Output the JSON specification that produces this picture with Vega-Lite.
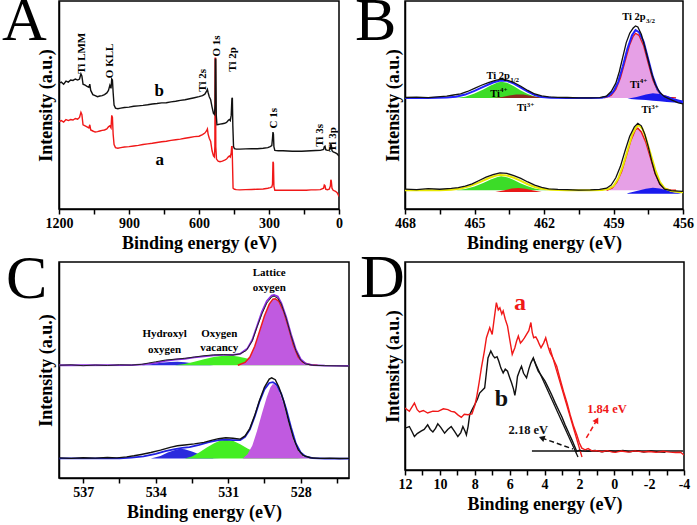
{
"$schema": "https://vega.github.io/schema/vega-lite/v6.json",
"padding": {"left": 1, "top": -11, "right": 0, "bottom": 0},
"config": {
 "view": {"stroke": "#000", "strokeWidth": 1.5},
 "style": {"guide-label": {"font": "Liberation Serif", "fontWeight": "bold"}, "guide-title": {"font": "Liberation Serif", "fontWeight": "bold"}},
 "axis": {"domainColor": "#000", "domainWidth": 1.5, "tickColor": "#000", "tickWidth": 1.5, "tickSize": 5, "labelFont": "Liberation Serif", "labelFontWeight": "bold", "labelFontSize": 14, "labelColor": "#000", "labelPadding": 2, "titleFont": "Liberation Serif", "titleFontWeight": "bold", "titleFontSize": 18, "titleColor": "#000", "grid": false, "labelOverlap": false, "labelFlush": false},
 "title": {"font": "Liberation Serif", "fontSize": 62, "fontWeight": "normal", "color": "#000", "anchor": "start", "frame": "bounds", "offset": 0, "baseline": "alphabetic"},
 "text": {"font": "Liberation Serif", "fontWeight": "bold"}
},
"datasets": {
 "A_b": [{"e":1200,"v":60.5},{"e":1190,"v":61},{"e":1180,"v":60},{"e":1170,"v":61.5},{"e":1160,"v":61},{"e":1150,"v":62},{"e":1140,"v":61.8},{"e":1130,"v":62.5},{"e":1120,"v":62},{"e":1112,"v":62.5},{"e":1106,"v":65},{"e":1102,"v":64},{"e":1097,"v":60},{"e":1088,"v":59.5},{"e":1080,"v":59},{"e":1072,"v":58.5},{"e":1068,"v":60},{"e":1064,"v":57},{"e":1055,"v":55},{"e":1045,"v":54.5},{"e":1035,"v":54},{"e":1025,"v":54.3},{"e":1015,"v":54.5},{"e":1005,"v":55},{"e":995,"v":55.8},{"e":988,"v":57},{"e":982,"v":59.5},{"e":977,"v":58},{"e":974,"v":62.5},{"e":971,"v":62},{"e":968,"v":56},{"e":964,"v":50},{"e":958,"v":48.5},{"e":948,"v":48.2},{"e":935,"v":48.5},{"e":920,"v":48.8},{"e":900,"v":49},{"e":880,"v":49.4},{"e":860,"v":49.6},{"e":840,"v":49.8},{"e":820,"v":50.1},{"e":800,"v":50.5},{"e":780,"v":50.7},{"e":760,"v":51},{"e":740,"v":51.1},{"e":720,"v":51.5},{"e":700,"v":51.8},{"e":680,"v":52.2},{"e":660,"v":52.5},{"e":640,"v":53},{"e":620,"v":53.5},{"e":600,"v":54},{"e":585,"v":54.5},{"e":575,"v":55.2},{"e":568,"v":56.5},{"e":564,"v":57.5},{"e":561,"v":56},{"e":556,"v":54},{"e":550,"v":52.5},{"e":544,"v":49},{"e":538,"v":46},{"e":534,"v":45.5},{"e":531,"v":50},{"e":530,"v":72},{"e":528,"v":72},{"e":526,"v":45},{"e":523,"v":40.5},{"e":518,"v":40.6},{"e":510,"v":40.8},{"e":500,"v":41},{"e":490,"v":41.2},{"e":482,"v":41.6},{"e":475,"v":42.5},{"e":470,"v":43},{"e":466,"v":42.5},{"e":462,"v":45},{"e":459,"v":53},{"e":457,"v":53.5},{"e":455,"v":40},{"e":452,"v":30},{"e":448,"v":29},{"e":440,"v":28.8},{"e":425,"v":28.8},{"e":400,"v":28.9},{"e":375,"v":29},{"e":350,"v":29},{"e":325,"v":29.2},{"e":305,"v":29.5},{"e":295,"v":30},{"e":288,"v":30.5},{"e":285,"v":34},{"e":283,"v":37},{"e":281,"v":36},{"e":279,"v":30},{"e":275,"v":28.2},{"e":260,"v":28},{"e":240,"v":28},{"e":220,"v":27.9},{"e":200,"v":27.8},{"e":180,"v":27.8},{"e":160,"v":27.8},{"e":140,"v":27.9},{"e":120,"v":28},{"e":100,"v":28.1},{"e":80,"v":28.2},{"e":66,"v":28.6},{"e":63,"v":30},{"e":60,"v":30.2},{"e":57,"v":28.5},{"e":50,"v":28.2},{"e":42,"v":28.3},{"e":37,"v":29},{"e":35,"v":31},{"e":33,"v":30.7},{"e":30,"v":28},{"e":25,"v":27.5},{"e":15,"v":27},{"e":8,"v":26.5},{"e":3,"v":25.8},{"e":0,"v":25.4}],
 "A_a": [{"e":1200,"v":42},{"e":1190,"v":42.5},{"e":1180,"v":41.8},{"e":1170,"v":43},{"e":1160,"v":42.5},{"e":1150,"v":43},{"e":1140,"v":42.8},{"e":1130,"v":43.5},{"e":1120,"v":43.2},{"e":1112,"v":44},{"e":1106,"v":46.5},{"e":1102,"v":45.5},{"e":1097,"v":40.5},{"e":1088,"v":40},{"e":1080,"v":39.5},{"e":1072,"v":39},{"e":1068,"v":40.5},{"e":1064,"v":38},{"e":1055,"v":37.5},{"e":1045,"v":37},{"e":1035,"v":37.2},{"e":1025,"v":37.5},{"e":1015,"v":37.8},{"e":1005,"v":38},{"e":995,"v":38.5},{"e":988,"v":39.5},{"e":982,"v":40},{"e":977,"v":39},{"e":974,"v":45},{"e":971,"v":44},{"e":968,"v":36},{"e":964,"v":31},{"e":958,"v":29.5},{"e":948,"v":29.2},{"e":935,"v":29.5},{"e":920,"v":29.8},{"e":900,"v":30},{"e":880,"v":30.3},{"e":860,"v":30.6},{"e":840,"v":31},{"e":820,"v":31.3},{"e":800,"v":31.6},{"e":780,"v":32},{"e":760,"v":32.3},{"e":740,"v":32.6},{"e":720,"v":33},{"e":700,"v":33.3},{"e":680,"v":33.6},{"e":660,"v":34},{"e":640,"v":34.4},{"e":620,"v":34.8},{"e":600,"v":35},{"e":585,"v":35.8},{"e":575,"v":36.5},{"e":568,"v":37.5},{"e":564,"v":38.5},{"e":561,"v":36},{"e":556,"v":34},{"e":550,"v":32.5},{"e":544,"v":28},{"e":538,"v":25.5},{"e":534,"v":25},{"e":532,"v":30},{"e":531,"v":72.5},{"e":529,"v":72.5},{"e":528,"v":30},{"e":525,"v":24},{"e":518,"v":23},{"e":510,"v":22.7},{"e":500,"v":23},{"e":490,"v":23.5},{"e":482,"v":24},{"e":475,"v":25},{"e":470,"v":25.5},{"e":466,"v":25},{"e":462,"v":27},{"e":460,"v":30},{"e":458,"v":30},{"e":456,"v":20},{"e":454,"v":10},{"e":448,"v":9.5},{"e":440,"v":9.3},{"e":425,"v":9.2},{"e":400,"v":9.3},{"e":375,"v":9.4},{"e":350,"v":9.5},{"e":325,"v":9.6},{"e":305,"v":10},{"e":295,"v":10.3},{"e":288,"v":10.6},{"e":285,"v":12},{"e":283,"v":22.7},{"e":281,"v":22},{"e":279,"v":11},{"e":275,"v":9},{"e":260,"v":9},{"e":240,"v":9},{"e":220,"v":9},{"e":200,"v":9},{"e":180,"v":9},{"e":160,"v":9},{"e":140,"v":9},{"e":120,"v":9.2},{"e":100,"v":9.2},{"e":80,"v":9.3},{"e":66,"v":10},{"e":63,"v":11.5},{"e":60,"v":11.2},{"e":57,"v":9.5},{"e":50,"v":9.3},{"e":42,"v":9.5},{"e":37,"v":11},{"e":35,"v":14},{"e":33,"v":13.5},{"e":30,"v":10},{"e":25,"v":9},{"e":15,"v":8.5},{"e":8,"v":7.8},{"e":3,"v":6.8},{"e":0,"v":6}],
 "A_lbl": [{"e":1101,"v":65,"t":"Ti LMM"},{"e":981,"v":62.9,"t":"O KLL"},{"e":582,"v":56.4,"t":"Ti 2s"},{"e":521,"v":73.3,"t":"O 1s"},{"e":453,"v":66,"t":"Ti 2p"},{"e":279,"v":38.7,"t":"C 1s"},{"e":82,"v":29.9,"t":"Ti 3s"},{"e":24,"v":27.5,"t":"Ti 3p"}],
 "A_ab": [{"e":770,"v":54.5,"t":"b"},{"e":768,"v":21,"t":"a"}],
 "B_top": [{"e":468,"v":53.6},{"e":467.5,"v":53.8},{"e":467,"v":53.5},{"e":466.6,"v":53.9},{"e":466.2,"v":54.3},{"e":465.9,"v":54.8},{"e":465.6,"v":55.3},{"e":465.3,"v":56.5},{"e":465,"v":58},{"e":464.7,"v":59.5},{"e":464.4,"v":60.8},{"e":464.1,"v":61.8},{"e":463.85,"v":62.4},{"e":463.6,"v":62},{"e":463.3,"v":60.8},{"e":463,"v":59},{"e":462.7,"v":57},{"e":462.4,"v":55.3},{"e":462.1,"v":54.4},{"e":461.8,"v":53.9},{"e":461.4,"v":53.7},{"e":461,"v":53.6},{"e":460.5,"v":53.4},{"e":460,"v":53.4},{"e":459.6,"v":53.5},{"e":459.3,"v":54.3},{"e":459.1,"v":56.5},{"e":458.9,"v":60.5},{"e":458.75,"v":66},{"e":458.6,"v":73},{"e":458.45,"v":80},{"e":458.3,"v":84.5},{"e":458.15,"v":87},{"e":458.05,"v":88},{"e":457.95,"v":87.5},{"e":457.8,"v":84},{"e":457.65,"v":78},{"e":457.5,"v":71.5},{"e":457.35,"v":65},{"e":457.2,"v":60},{"e":457,"v":56},{"e":456.8,"v":54},{"e":456.5,"v":52.5},{"e":456.2,"v":51},{"e":456,"v":50.5}],
 "B_topenv": [{"e":468,"v":53.4},{"e":467,"v":53.4},{"e":466.2,"v":53.6},{"e":465.8,"v":54},{"e":465.4,"v":55},{"e":465,"v":56.8},{"e":464.6,"v":58.8},{"e":464.2,"v":60.8},{"e":463.9,"v":61.8},{"e":463.6,"v":61.6},{"e":463.3,"v":60.3},{"e":463,"v":58.4},{"e":462.7,"v":56.4},{"e":462.4,"v":54.8},{"e":462.1,"v":53.9},{"e":461.7,"v":53.5},{"e":461,"v":53.4},{"e":460,"v":53.4},{"e":459.5,"v":53.5},{"e":459.2,"v":54.4},{"e":459,"v":56.5},{"e":458.8,"v":61},{"e":458.6,"v":68.5},{"e":458.4,"v":77},{"e":458.2,"v":83.5},{"e":458.05,"v":86},{"e":457.9,"v":85},{"e":457.7,"v":80.5},{"e":457.5,"v":72},{"e":457.3,"v":63.5},{"e":457.1,"v":57.5},{"e":456.9,"v":54.5},{"e":456.6,"v":53},{"e":456.3,"v":52},{"e":456,"v":51.5}],
 "B_top_pink": [{"e":459.4,"v":53.4,"b":53.4},{"e":459.1,"v":54.6,"b":53.4},{"e":458.9,"v":57.5,"b":53.4},{"e":458.7,"v":63,"b":53.4},{"e":458.5,"v":71,"b":53.4},{"e":458.3,"v":79,"b":53.4},{"e":458.15,"v":83,"b":53.4},{"e":458.05,"v":84.5,"b":53.4},{"e":457.9,"v":83.5,"b":53.4},{"e":457.7,"v":78.5,"b":53.4},{"e":457.5,"v":70,"b":53.4},{"e":457.3,"v":62,"b":53.4},{"e":457.1,"v":57,"b":53.4},{"e":456.9,"v":54.8,"b":53.4},{"e":456.6,"v":53.7,"b":53.4},{"e":456.3,"v":53.4,"b":53.4}],
 "B_top_blue": [{"e":458.4,"v":53,"b":53},{"e":458,"v":53.8,"b":52.7},{"e":457.6,"v":55,"b":52.4},{"e":457.3,"v":55.6,"b":52.1},{"e":457,"v":55.3,"b":51.8},{"e":456.7,"v":54.4,"b":51.5},{"e":456.4,"v":53.2,"b":51.2},{"e":456,"v":52,"b":50.8}],
 "B_top_green": [{"e":465.8,"v":53.4,"b":53.4},{"e":465.4,"v":54,"b":53.4},{"e":465,"v":55.5,"b":53.4},{"e":464.6,"v":57.6,"b":53.4},{"e":464.3,"v":59.4,"b":53.4},{"e":464,"v":60.8,"b":53.4},{"e":463.85,"v":61.2,"b":53.4},{"e":463.6,"v":60.7,"b":53.4},{"e":463.3,"v":59,"b":53.4},{"e":463,"v":57,"b":53.4},{"e":462.7,"v":55.3,"b":53.4},{"e":462.4,"v":54.1,"b":53.4},{"e":462.1,"v":53.6,"b":53.4},{"e":461.8,"v":53.4,"b":53.4}],
 "B_top_red": [{"e":464.2,"v":53.4,"b":53.4},{"e":463.8,"v":53.9,"b":53.4},{"e":463.5,"v":54.6,"b":53.4},{"e":463.2,"v":55.1,"b":53.4},{"e":462.9,"v":55,"b":53.4},{"e":462.6,"v":54.5,"b":53.4},{"e":462.3,"v":53.9,"b":53.4},{"e":462,"v":53.4,"b":53.4}],
 "B_bot": [{"e":468,"v":9.6},{"e":467.5,"v":9.3},{"e":467,"v":9.8},{"e":466.5,"v":9.5},{"e":466,"v":9.9},{"e":465.7,"v":10.3},{"e":465.4,"v":11},{"e":465.1,"v":12.1},{"e":464.8,"v":13.7},{"e":464.5,"v":15.3},{"e":464.2,"v":16.5},{"e":463.9,"v":17.4},{"e":463.6,"v":17.1},{"e":463.3,"v":16},{"e":463,"v":14.7},{"e":462.7,"v":13},{"e":462.4,"v":11.5},{"e":462.1,"v":10.4},{"e":461.8,"v":9.7},{"e":461.4,"v":9.4},{"e":461,"v":9.3},{"e":460.5,"v":9.1},{"e":460,"v":9.2},{"e":459.6,"v":9.4},{"e":459.3,"v":10},{"e":459.1,"v":11.5},{"e":458.9,"v":15},{"e":458.7,"v":20.5},{"e":458.5,"v":28},{"e":458.3,"v":35},{"e":458.1,"v":39.5},{"e":457.95,"v":41.2},{"e":457.8,"v":40},{"e":457.65,"v":36},{"e":457.5,"v":30},{"e":457.35,"v":23},{"e":457.2,"v":17},{"e":457,"v":12},{"e":456.8,"v":9.5},{"e":456.5,"v":8.8},{"e":456.2,"v":8.6},{"e":456,"v":8.5}],
 "B_botenv": [{"e":468,"v":9},{"e":466.5,"v":9},{"e":466,"v":9.2},{"e":465.6,"v":9.8},{"e":465.2,"v":11},{"e":464.8,"v":12.8},{"e":464.4,"v":14.8},{"e":464.1,"v":16},{"e":463.9,"v":16.4},{"e":463.6,"v":16.1},{"e":463.3,"v":15},{"e":463,"v":13.5},{"e":462.7,"v":11.9},{"e":462.4,"v":10.6},{"e":462.1,"v":9.7},{"e":461.7,"v":9.2},{"e":461,"v":9},{"e":460,"v":9},{"e":459.5,"v":9.1},{"e":459.2,"v":9.7},{"e":459,"v":11},{"e":458.8,"v":14.5},{"e":458.6,"v":20.5},{"e":458.4,"v":28},{"e":458.2,"v":35.5},{"e":458,"v":39.8},{"e":457.9,"v":40.2},{"e":457.75,"v":38.5},{"e":457.6,"v":34},{"e":457.4,"v":26.5},{"e":457.2,"v":19},{"e":457,"v":13},{"e":456.8,"v":10},{"e":456.5,"v":8.6},{"e":456.2,"v":8.2},{"e":456,"v":8}],
 "B_bot_pink": [{"e":459.3,"v":9,"b":9},{"e":459.05,"v":10.2,"b":9},{"e":458.85,"v":13,"b":9},{"e":458.65,"v":18,"b":9},{"e":458.45,"v":25.5,"b":9},{"e":458.25,"v":33,"b":9},{"e":458.05,"v":38.2,"b":9},{"e":457.95,"v":38.8,"b":9},{"e":457.8,"v":37,"b":9},{"e":457.6,"v":32,"b":9},{"e":457.4,"v":24.5,"b":9},{"e":457.2,"v":17,"b":9},{"e":457,"v":12,"b":9},{"e":456.8,"v":9.8,"b":9},{"e":456.5,"v":9,"b":9},{"e":456.3,"v":9,"b":9}],
 "B_bot_green": [{"e":465.8,"v":9,"b":9},{"e":465.4,"v":9.6,"b":9},{"e":465,"v":10.8,"b":9},{"e":464.6,"v":12.6,"b":9},{"e":464.3,"v":14.2,"b":9},{"e":464,"v":15.4,"b":9},{"e":463.85,"v":15.7,"b":9},{"e":463.6,"v":15.3,"b":9},{"e":463.3,"v":14,"b":9},{"e":463,"v":12.3,"b":9},{"e":462.7,"v":10.9,"b":9},{"e":462.4,"v":9.9,"b":9},{"e":462.1,"v":9.3,"b":9},{"e":461.8,"v":9,"b":9}],
 "B_bot_red": [{"e":464.1,"v":8.2,"b":8.2},{"e":463.7,"v":9,"b":8.2},{"e":463.4,"v":9.8,"b":8.2},{"e":463.1,"v":10.1,"b":8.2},{"e":462.8,"v":9.7,"b":8.2},{"e":462.5,"v":9,"b":8.2},{"e":462.1,"v":8.2,"b":8.2}],
 "B_bot_blue": [{"e":458.4,"v":7.6,"b":7.3},{"e":458,"v":8.7,"b":7.3},{"e":457.6,"v":9.7,"b":7.3},{"e":457.3,"v":10.2,"b":7.3},{"e":457,"v":9.9,"b":7.3},{"e":456.7,"v":9,"b":7.3},{"e":456.4,"v":8,"b":7.3},{"e":456.1,"v":7.4,"b":7.3}],
 "B_lbl": [{"e":457.61,"v":90.7,"t":"Ti 2p"},{"e":463.47,"v":62.3,"t":"Ti 2p"},{"e":463.9,"v":54,"t":"Ti"},{"e":462.75,"v":47,"t":"Ti"},{"e":457.87,"v":58.1,"t":"Ti"},{"e":457.37,"v":46,"t":"Ti"}],
 "B_sub": [{"e":457.6,"v":89.4,"t":"3/2"},{"e":463.46,"v":61.2,"t":"1/2"},{"e":463.9,"v":56.3,"t":"4+"},{"e":462.75,"v":49.2,"t":"3+"},{"e":457.87,"v":60.4,"t":"4+"},{"e":457.37,"v":48.3,"t":"3+"}],
 "C_top": [{"e":538,"v":52.2},{"e":537.5,"v":52.4},{"e":537,"v":52},{"e":536.5,"v":52.3},{"e":536,"v":52.1},{"e":535.5,"v":52.4},{"e":535,"v":52.3},{"e":534.6,"v":52.6},{"e":534.3,"v":53.2},{"e":534,"v":53.8},{"e":533.6,"v":54.6},{"e":533.2,"v":55},{"e":532.8,"v":55.4},{"e":532.4,"v":56},{"e":532,"v":56.6},{"e":531.6,"v":57},{"e":531.2,"v":57.1},{"e":530.8,"v":56.9},{"e":530.5,"v":57.5},{"e":530.25,"v":59},{"e":530,"v":63.5},{"e":529.8,"v":70},{"e":529.6,"v":76},{"e":529.4,"v":81},{"e":529.2,"v":83.8},{"e":529.1,"v":84.2},{"e":528.95,"v":83.2},{"e":528.8,"v":80.5},{"e":528.6,"v":74},{"e":528.4,"v":66},{"e":528.2,"v":59},{"e":528,"v":54.5},{"e":527.8,"v":52.8},{"e":527.5,"v":52.2},{"e":527,"v":52},{"e":526.5,"v":51.9},{"e":526,"v":51.8}],
 "C_topenv": [{"e":538,"v":52.2},{"e":535,"v":52.3},{"e":534.5,"v":52.6},{"e":534,"v":53.3},{"e":533.6,"v":54.2},{"e":533.2,"v":54.8},{"e":532.8,"v":55.2},{"e":532.4,"v":55.8},{"e":532,"v":56.3},{"e":531.6,"v":56.8},{"e":531.2,"v":57},{"e":530.8,"v":57},{"e":530.5,"v":57.5},{"e":530.2,"v":60},{"e":530,"v":64},{"e":529.8,"v":70.5},{"e":529.6,"v":77},{"e":529.4,"v":82},{"e":529.2,"v":84.5},{"e":529.1,"v":84.8},{"e":528.95,"v":84},{"e":528.8,"v":81},{"e":528.6,"v":74.5},{"e":528.4,"v":66.5},{"e":528.2,"v":59.5},{"e":528,"v":55},{"e":527.8,"v":53},{"e":527.5,"v":52.3},{"e":527,"v":52},{"e":526,"v":51.9}],
 "C_top_purple": [{"e":530.6,"v":52.2,"b":52.2},{"e":530.3,"v":53.5,"b":52.2},{"e":530.1,"v":56,"b":52.2},{"e":529.9,"v":61,"b":52.2},{"e":529.7,"v":68,"b":52.2},{"e":529.5,"v":75,"b":52.2},{"e":529.3,"v":80.5,"b":52.2},{"e":529.15,"v":82.8,"b":52.2},{"e":529.05,"v":83,"b":52.2},{"e":528.9,"v":81.8,"b":52.2},{"e":528.7,"v":77,"b":52.2},{"e":528.5,"v":69.5,"b":52.2},{"e":528.3,"v":61.5,"b":52.2},{"e":528.1,"v":56,"b":52.2},{"e":527.9,"v":53.5,"b":52.2},{"e":527.6,"v":52.4,"b":52.2},{"e":527.3,"v":52.2,"b":52.2}],
 "C_top_green": [{"e":533.2,"v":52.2,"b":52.2},{"e":532.8,"v":52.8,"b":52.2},{"e":532.4,"v":53.8,"b":52.2},{"e":532,"v":55,"b":52.2},{"e":531.6,"v":56,"b":52.2},{"e":531.2,"v":56.6,"b":52.2},{"e":530.9,"v":56.7,"b":52.2},{"e":530.6,"v":56.3,"b":52.2},{"e":530.3,"v":55.5,"b":52.2},{"e":530,"v":54.6,"b":52.2},{"e":529.6,"v":53.8,"b":52.2},{"e":529.2,"v":53.3,"b":52.2},{"e":528.8,"v":52.9,"b":52.2},{"e":528.3,"v":52.5,"b":52.2},{"e":527.8,"v":52.3,"b":52.2},{"e":527.4,"v":52.2,"b":52.2}],
 "C_top_blue": [{"e":534.6,"v":52.2,"b":52.2},{"e":534.2,"v":52.7,"b":52.2},{"e":533.8,"v":53.3,"b":52.2},{"e":533.4,"v":53.7,"b":52.2},{"e":533.1,"v":53.8,"b":52.2},{"e":532.8,"v":53.6,"b":52.2},{"e":532.4,"v":53,"b":52.2},{"e":532,"v":52.5,"b":52.2},{"e":531.6,"v":52.2,"b":52.2}],
 "C_bot": [{"e":538,"v":9.3},{"e":537.5,"v":9.1},{"e":537,"v":9.4},{"e":536.5,"v":9.2},{"e":536,"v":9.5},{"e":535.6,"v":9.3},{"e":535.2,"v":9.8},{"e":534.9,"v":10.3},{"e":534.6,"v":10.9},{"e":534.2,"v":11.8},{"e":533.8,"v":12.9},{"e":533.4,"v":14.2},{"e":533.1,"v":14.9},{"e":532.8,"v":15.3},{"e":532.4,"v":15.8},{"e":532,"v":16.5},{"e":531.7,"v":17.4},{"e":531.4,"v":18.2},{"e":531.1,"v":18.6},{"e":530.8,"v":18.4},{"e":530.5,"v":18},{"e":530.3,"v":19.5},{"e":530.1,"v":23},{"e":529.9,"v":29},{"e":529.7,"v":36},{"e":529.5,"v":42},{"e":529.3,"v":45.8},{"e":529.2,"v":46.4},{"e":529.05,"v":45.5},{"e":528.9,"v":42},{"e":528.7,"v":35.5},{"e":528.5,"v":26.5},{"e":528.3,"v":18.5},{"e":528.1,"v":13},{"e":527.9,"v":10.5},{"e":527.6,"v":9.4},{"e":527.2,"v":9.1},{"e":526.8,"v":9.2},{"e":526.4,"v":9},{"e":526,"v":9.1}],
 "C_botenv": [{"e":538,"v":9.1},{"e":535.5,"v":9.1},{"e":535,"v":9.4},{"e":534.5,"v":10},{"e":534,"v":11.2},{"e":533.6,"v":12.4},{"e":533.2,"v":13.4},{"e":532.9,"v":13.9},{"e":532.6,"v":14.3},{"e":532.2,"v":15.3},{"e":531.8,"v":16.6},{"e":531.4,"v":17.5},{"e":531.1,"v":17.8},{"e":530.8,"v":17.5},{"e":530.5,"v":17.5},{"e":530.3,"v":19},{"e":530.1,"v":22.5},{"e":529.9,"v":28.5},{"e":529.7,"v":35.5},{"e":529.5,"v":41},{"e":529.3,"v":44},{"e":529.15,"v":44.4},{"e":529,"v":43.2},{"e":528.8,"v":39},{"e":528.6,"v":32},{"e":528.4,"v":23.5},{"e":528.2,"v":16},{"e":528,"v":11.8},{"e":527.8,"v":10},{"e":527.5,"v":9.2},{"e":527,"v":9},{"e":526,"v":9}],
 "C_bot_blue": [{"e":534.2,"v":9,"b":9},{"e":533.8,"v":10.2,"b":9},{"e":533.5,"v":11.8,"b":9},{"e":533.2,"v":13,"b":9},{"e":533,"v":13.5,"b":9},{"e":532.8,"v":13.3,"b":9},{"e":532.5,"v":12.3,"b":9},{"e":532.2,"v":11,"b":9},{"e":531.9,"v":9.9,"b":9},{"e":531.6,"v":9.2,"b":9},{"e":531.3,"v":9,"b":9}],
 "C_bot_green": [{"e":532.8,"v":9,"b":9},{"e":532.5,"v":10,"b":9},{"e":532.2,"v":11.8,"b":9},{"e":531.9,"v":14,"b":9},{"e":531.6,"v":16,"b":9},{"e":531.35,"v":17.3,"b":9},{"e":531.1,"v":17.7,"b":9},{"e":530.8,"v":17.2,"b":9},{"e":530.5,"v":15.6,"b":9},{"e":530.2,"v":13.6,"b":9},{"e":529.9,"v":12,"b":9},{"e":529.6,"v":11,"b":9},{"e":529.2,"v":10.4,"b":9},{"e":528.8,"v":9.9,"b":9},{"e":528.4,"v":9.5,"b":9},{"e":528,"v":9.2,"b":9},{"e":527.6,"v":9,"b":9}],
 "C_bot_purple": [{"e":530.4,"v":9,"b":9},{"e":530.2,"v":11,"b":9},{"e":530,"v":15,"b":9},{"e":529.8,"v":22,"b":9},{"e":529.6,"v":30,"b":9},{"e":529.4,"v":37.5,"b":9},{"e":529.25,"v":42,"b":9},{"e":529.15,"v":43.5,"b":9},{"e":529.05,"v":43.2,"b":9},{"e":528.9,"v":40.5,"b":9},{"e":528.7,"v":34,"b":9},{"e":528.5,"v":25.5,"b":9},{"e":528.3,"v":17.5,"b":9},{"e":528.1,"v":12.5,"b":9},{"e":527.9,"v":10,"b":9},{"e":527.6,"v":9.1,"b":9},{"e":527.3,"v":9,"b":9}],
 "C_lbl": [{"e":529.3,"v":93.4,"t":"Lattice"},{"e":529.3,"v":86.7,"t":"oxygen"},{"e":533.63,"v":65.1,"t":"Hydroxyl"},{"e":533.63,"v":57.9,"t":"oxygen"},{"e":531.37,"v":65.1,"t":"Oxygen"},{"e":531.37,"v":59,"t":"vacancy"}],
 "D_a": [{"e":12,"v":29.8},{"e":11.75,"v":28.2},{"e":11.46,"v":32.2},{"e":11.3,"v":29},{"e":11.17,"v":27.9},{"e":10.95,"v":28.6},{"e":10.7,"v":27.4},{"e":10.4,"v":28.3},{"e":10.1,"v":28.2},{"e":9.8,"v":29.4},{"e":9.54,"v":29},{"e":9.35,"v":28.2},{"e":9.16,"v":27.9},{"e":8.95,"v":26.4},{"e":8.77,"v":25.3},{"e":8.6,"v":26.8},{"e":8.39,"v":26.6},{"e":8.16,"v":27},{"e":8,"v":31},{"e":7.9,"v":34.6},{"e":7.75,"v":42},{"e":7.62,"v":49.1},{"e":7.45,"v":57},{"e":7.33,"v":63.6},{"e":7.14,"v":68.4},{"e":7,"v":65.2},{"e":6.88,"v":73},{"e":6.76,"v":80.5},{"e":6.65,"v":77},{"e":6.56,"v":78},{"e":6.45,"v":75},{"e":6.37,"v":76.5},{"e":6.25,"v":72.5},{"e":6.12,"v":69.2},{"e":6,"v":63},{"e":5.85,"v":55.6},{"e":5.7,"v":58.8},{"e":5.6,"v":62},{"e":5.5,"v":64.4},{"e":5.38,"v":61},{"e":5.28,"v":62},{"e":5.15,"v":63.5},{"e":5.03,"v":65.2},{"e":4.9,"v":67},{"e":4.78,"v":70.9},{"e":4.7,"v":66},{"e":4.62,"v":63.6},{"e":4.5,"v":64},{"e":4.39,"v":62.3},{"e":4.3,"v":60.5},{"e":4.2,"v":58.8},{"e":4.05,"v":61},{"e":3.93,"v":63.6},{"e":3.8,"v":59.5},{"e":3.68,"v":56.4},{"e":3.5,"v":53.5},{"e":3.3,"v":49.9},{"e":3.1,"v":43.5},{"e":2.91,"v":37.8},{"e":2.7,"v":32},{"e":2.53,"v":26.6},{"e":2.35,"v":21.5},{"e":2.15,"v":16.9},{"e":2,"v":13},{"e":1.86,"v":10.5},{"e":1.67,"v":9.7},{"e":1.5,"v":10.3},{"e":1.28,"v":9.2},{"e":1,"v":9.3},{"e":0.7,"v":8.8},{"e":0.4,"v":9.3},{"e":0.1,"v":8.6},{"e":-0.06,"v":8.5},{"e":-0.4,"v":9.1},{"e":-0.8,"v":8.6},{"e":-1.2,"v":9.2},{"e":-1.6,"v":8.7},{"e":-1.98,"v":8.9},{"e":-2.4,"v":8.5},{"e":-2.8,"v":9},{"e":-3.2,"v":8.6},{"e":-3.52,"v":8.4},{"e":-3.8,"v":8.5},{"e":-4,"v":7.2}],
 "D_b": [{"e":12,"v":20.1},{"e":11.75,"v":20.9},{"e":11.6,"v":18.5},{"e":11.46,"v":16.1},{"e":11.3,"v":17.5},{"e":11.08,"v":18.7},{"e":10.9,"v":19.5},{"e":10.7,"v":21.7},{"e":10.55,"v":19.5},{"e":10.4,"v":18.3},{"e":10.25,"v":20},{"e":10.12,"v":22.2},{"e":9.95,"v":20.5},{"e":9.73,"v":17.7},{"e":9.55,"v":19.5},{"e":9.35,"v":20.9},{"e":9.15,"v":18.5},{"e":8.97,"v":16.1},{"e":8.8,"v":18},{"e":8.68,"v":20.9},{"e":8.55,"v":18.5},{"e":8.48,"v":16.9},{"e":8.38,"v":21},{"e":8.29,"v":26.6},{"e":8.15,"v":29},{"e":8,"v":31.4},{"e":7.85,"v":34},{"e":7.72,"v":37},{"e":7.55,"v":38.5},{"e":7.43,"v":39.5},{"e":7.33,"v":47},{"e":7.24,"v":53.9},{"e":7.08,"v":57.2},{"e":6.95,"v":55},{"e":6.85,"v":53.9},{"e":6.72,"v":54.5},{"e":6.62,"v":52.3},{"e":6.5,"v":49},{"e":6.37,"v":46.7},{"e":6.25,"v":48.5},{"e":6.12,"v":47.5},{"e":6,"v":44.5},{"e":5.89,"v":41.9},{"e":5.78,"v":39},{"e":5.7,"v":35.9},{"e":5.62,"v":40},{"e":5.55,"v":45},{"e":5.42,"v":48},{"e":5.32,"v":49.9},{"e":5.2,"v":46.5},{"e":5.03,"v":44.3},{"e":4.9,"v":48.5},{"e":4.78,"v":51.5},{"e":4.64,"v":53.9},{"e":4.5,"v":50.5},{"e":4.36,"v":47.5},{"e":4.15,"v":45},{"e":3.97,"v":42.7},{"e":3.78,"v":39.5},{"e":3.59,"v":36.2},{"e":3.4,"v":32.5},{"e":3.2,"v":29},{"e":3,"v":25.5},{"e":2.82,"v":21.7},{"e":2.62,"v":18},{"e":2.43,"v":14.5},{"e":2.28,"v":11.5},{"e":2.15,"v":8.9},{"e":2,"v":9.5},{"e":1.86,"v":9.2},{"e":1.5,"v":9},{"e":1.1,"v":9.4},{"e":0.7,"v":8.8},{"e":0.3,"v":9.3},{"e":-0.06,"v":8.9},{"e":-0.5,"v":9.4},{"e":-0.9,"v":8.7},{"e":-1.3,"v":9.3},{"e":-1.7,"v":8.6},{"e":-2.1,"v":9.2},{"e":-2.5,"v":8.7},{"e":-2.94,"v":8.5}],
 "D_base": [{"e":4.72,"v":9.1},{"e":-3.94,"v":9.1}],
 "D_tan_a": [{"e":3.69,"v":58.7},{"e":1.85,"v":6.25}],
 "D_tan_b": [{"e":4.66,"v":53.8},{"e":2.08,"v":6.25}],
 "D_arr_b": [{"e":2.37,"v":10.1},{"e":4.16,"v":15.4}],
 "D_arr_a": [{"e":1.6,"v":15.4},{"e":1.0,"v":24}],
 "D_head_b": [{"e":4.16,"v":15.4}],
 "D_head_a": [{"e":1.0,"v":24}],
 "D_lbl_a": [{"e":5.41,"v":76.8,"t":"a"}],
 "D_lbl_b": [{"e":6.47,"v":30.9,"t":"b"}],
 "D_ev_b": [{"e":4.93,"v":17.4,"t":"2.18 eV"}],
 "D_ev_a": [{"e":0.42,"v":27.4,"t":"1.84 eV"}]
},
"columns": 2,
"bounds": "flush",
"spacing": {"row": 53, "column": 56},
"concat": [
  {"width": 280, "height": 208,
   "title": {"text": "A", "dx": -35, "dy": 56},
   "encoding": {
    "x": {"field": "e", "type": "quantitative", "scale": {"domain": [0, 1200], "reverse": true, "nice": false, "zero": false}, "axis": {"title": "Binding energy (eV)", "labelFont": "Liberation Serif", "titleFont": "Liberation Serif", "values": [1200,1050,900,750,600,450,300,150,0], "format": "d", "labelExpr": "datum.value % 300 == 0 ? datum.label : ''"}},
    "y": {"field": "v", "type": "quantitative", "scale": {"domain": [0, 100], "nice": false, "zero": false}, "axis": {"title": "Intensity (a.u.)", "titleFont": "Liberation Serif", "labels": false, "ticks": false, "titlePadding": 4}}
   },
   "layer": [
    {"data": {"name": "A_a"}, "mark": {"type": "line", "color": "#f01818", "strokeWidth": 1.4, "clip": true}},
    {"data": {"name": "A_b"}, "mark": {"type": "line", "color": "#111111", "strokeWidth": 1.4, "clip": true}},
    {"data": {"name": "A_lbl"}, "mark": {"type": "text", "angle": 270, "align": "left", "baseline": "middle", "fontSize": 11, "color": "#000"}, "encoding": {"text": {"field": "t"}}},
    {"data": {"name": "A_ab"}, "mark": {"type": "text", "align": "center", "baseline": "alphabetic", "fontSize": 17, "color": "#000"}, "encoding": {"text": {"field": "t"}}}
   ]},
  {"width": 278, "height": 208,
   "title": {"text": "B", "dx": -29, "dy": 56},
   "encoding": {
    "x": {"field": "e", "type": "quantitative", "scale": {"domain": [456, 468], "reverse": true, "nice": false, "zero": false}, "axis": {"title": "Binding energy (eV)", "labelFont": "Liberation Serif", "titleFont": "Liberation Serif", "values": [468,466.5,465,463.5,462,460.5,459,457.5,456], "format": "d", "labelExpr": "datum.value % 3 == 0 ? datum.label : ''"}},
    "y": {"field": "v", "type": "quantitative", "scale": {"domain": [0, 100], "nice": false, "zero": false}, "axis": {"title": "Intensity (a.u.)", "titleFont": "Liberation Serif", "labels": false, "ticks": false, "titlePadding": 3}}
   },
   "layer": [
    {"data": {"name": "B_top_green"}, "mark": {"type": "area", "color": "#3cdc28", "opacity": 1}, "encoding": {"y2": {"field": "b"}}},
    {"data": {"name": "B_top_red"}, "mark": {"type": "area", "color": "#8a2a1e", "opacity": 1}, "encoding": {"y2": {"field": "b"}}},
    {"data": {"name": "B_top_pink"}, "mark": {"type": "area", "color": "#e6a0e6", "opacity": 1, "line": {"color": "#e81818", "strokeWidth": 1.3}}, "encoding": {"y2": {"field": "b"}}},
    {"data": {"name": "B_top_blue"}, "mark": {"type": "area", "color": "#1a1aee", "opacity": 1}, "encoding": {"y2": {"field": "b"}}},
    {"data": {"name": "B_topenv"}, "mark": {"type": "line", "color": "#2222ff", "strokeWidth": 2}},
    {"data": {"name": "B_top"}, "mark": {"type": "line", "color": "#111111", "strokeWidth": 1.3}},
    {"data": {"name": "B_bot_green"}, "mark": {"type": "area", "color": "#3cdc28", "opacity": 1}, "encoding": {"y2": {"field": "b"}}},
    {"data": {"name": "B_bot_red"}, "mark": {"type": "area", "color": "#e81818", "opacity": 1}, "encoding": {"y2": {"field": "b"}}},
    {"data": {"name": "B_bot_pink"}, "mark": {"type": "area", "color": "#e6a0e6", "opacity": 1, "line": {"color": "#e81818", "strokeWidth": 1.5}}, "encoding": {"y2": {"field": "b"}}},
    {"data": {"name": "B_bot_blue"}, "mark": {"type": "area", "color": "#1a1aee", "opacity": 1}, "encoding": {"y2": {"field": "b"}}},
    {"data": {"name": "B_botenv"}, "mark": {"type": "line", "color": "#e8e800", "strokeWidth": 2}},
    {"data": {"name": "B_bot"}, "mark": {"type": "line", "color": "#111111", "strokeWidth": 1.3}},
    {"data": {"name": "B_lbl"}, "mark": {"type": "text", "align": "right", "baseline": "alphabetic", "fontSize": 10.5, "color": "#000"}, "encoding": {"text": {"field": "t"}}},
    {"data": {"name": "B_sub"}, "mark": {"type": "text", "align": "left", "baseline": "alphabetic", "fontSize": 7, "color": "#000"}, "encoding": {"text": {"field": "t"}}}
   ]},
  {"width": 290, "height": 216,
   "title": {"text": "C", "dx": -31, "dy": 53},
   "encoding": {
    "x": {"field": "e", "type": "quantitative", "scale": {"domain": [526, 538], "reverse": true, "nice": false, "zero": false}, "axis": {"title": "Binding energy (eV)", "labelFont": "Liberation Serif", "titleFont": "Liberation Serif", "values": [537,535.5,534,532.5,531,529.5,528,526.5], "format": "d", "labelExpr": "datum.value % 3 == 0 ? datum.label : ''"}},
    "y": {"field": "v", "type": "quantitative", "scale": {"domain": [0, 100], "nice": false, "zero": false}, "axis": {"title": "Intensity (a.u.)", "titleFont": "Liberation Serif", "labels": false, "ticks": false, "titlePadding": 4}}
   },
   "layer": [
    {"data": {"name": "C_top_blue"}, "mark": {"type": "area", "color": "#2b2bdd", "opacity": 1}, "encoding": {"y2": {"field": "b"}}},
    {"data": {"name": "C_top_green"}, "mark": {"type": "area", "color": "#44ee22", "opacity": 1}, "encoding": {"y2": {"field": "b"}}},
    {"data": {"name": "C_top_purple"}, "mark": {"type": "area", "color": "#c05ae0", "opacity": 1, "line": {"color": "#ee1c1c", "strokeWidth": 1.5}}, "encoding": {"y2": {"field": "b"}}},
    {"data": {"name": "C_topenv"}, "mark": {"type": "line", "color": "#8a2be2", "strokeWidth": 1.8}},
    {"data": {"name": "C_top"}, "mark": {"type": "line", "color": "#222222", "strokeWidth": 1}},
    {"data": {"name": "C_bot_blue"}, "mark": {"type": "area", "color": "#2b2bdd", "opacity": 1}, "encoding": {"y2": {"field": "b"}}},
    {"data": {"name": "C_bot_green"}, "mark": {"type": "area", "color": "#44ee22", "opacity": 1}, "encoding": {"y2": {"field": "b"}}},
    {"data": {"name": "C_bot_purple"}, "mark": {"type": "area", "color": "#c05ae0", "opacity": 1}, "encoding": {"y2": {"field": "b"}}},
    {"data": {"name": "C_botenv"}, "mark": {"type": "line", "color": "#2020e0", "strokeWidth": 1.8}},
    {"data": {"name": "C_bot"}, "mark": {"type": "line", "color": "#111111", "strokeWidth": 1.4}},
    {"data": {"name": "C_lbl"}, "mark": {"type": "text", "align": "center", "baseline": "alphabetic", "fontSize": 11, "color": "#000"}, "encoding": {"text": {"field": "t"}}}
   ]},
  {"width": 279, "height": 208,
   "title": {"text": "D", "dx": -24, "dy": 52},
   "encoding": {
    "x": {"field": "e", "type": "quantitative", "scale": {"domain": [-4, 12], "reverse": true, "nice": false, "zero": false}, "axis": {"title": "Binding energy (eV)", "labelFont": "Liberation Serif", "titleFont": "Liberation Serif", "values": [12,11,10,9,8,7,6,5,4,3,2,1,0,-1,-2,-3,-4], "labelExpr": "datum.value % 2 == 0 ? ('' + datum.value) : ''"}},
    "y": {"field": "v", "type": "quantitative", "scale": {"domain": [0, 100], "nice": false, "zero": false}, "axis": {"title": "Intensity (a.u.)", "titleFont": "Liberation Serif", "labels": false, "ticks": false, "titlePadding": 3}}
   },
   "layer": [
    {"data": {"name": "D_base"}, "mark": {"type": "line", "color": "#111111", "strokeWidth": 1.5}},
    {"data": {"name": "D_tan_b"}, "mark": {"type": "line", "color": "#111111", "strokeWidth": 1.3}},
    {"data": {"name": "D_tan_a"}, "mark": {"type": "line", "color": "#f01818", "strokeWidth": 1.3}},
    {"data": {"name": "D_b"}, "mark": {"type": "line", "color": "#111111", "strokeWidth": 1.4, "clip": true}},
    {"data": {"name": "D_a"}, "mark": {"type": "line", "color": "#f01818", "strokeWidth": 1.4, "clip": true}},
    {"data": {"name": "D_arr_b"}, "mark": {"type": "line", "color": "#111111", "strokeWidth": 1.5, "strokeDash": [5, 3]}},
    {"data": {"name": "D_arr_a"}, "mark": {"type": "line", "color": "#f01818", "strokeWidth": 1.5, "strokeDash": [5, 3]}},
    {"data": {"name": "D_head_b"}, "mark": {"type": "point", "shape": "triangle-up", "filled": true, "size": 45, "angle": 290, "color": "#111111", "opacity": 1}},
    {"data": {"name": "D_head_a"}, "mark": {"type": "point", "shape": "triangle-up", "filled": true, "size": 45, "angle": 30, "color": "#f01818", "opacity": 1}},
    {"data": {"name": "D_lbl_a"}, "mark": {"type": "text", "align": "center", "baseline": "alphabetic", "fontSize": 24, "color": "#f01818"}, "encoding": {"text": {"field": "t"}}},
    {"data": {"name": "D_lbl_b"}, "mark": {"type": "text", "align": "center", "baseline": "alphabetic", "fontSize": 24, "color": "#111111"}, "encoding": {"text": {"field": "t"}}},
    {"data": {"name": "D_ev_b"}, "mark": {"type": "text", "align": "center", "baseline": "alphabetic", "fontSize": 12.5, "color": "#111111"}, "encoding": {"text": {"field": "t"}}},
    {"data": {"name": "D_ev_a"}, "mark": {"type": "text", "align": "center", "baseline": "alphabetic", "fontSize": 12.5, "color": "#f01818"}, "encoding": {"text": {"field": "t"}}}
   ]}
]
}
